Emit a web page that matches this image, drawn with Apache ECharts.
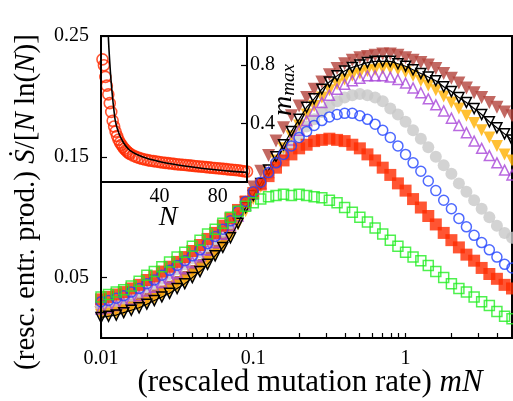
<!DOCTYPE html>
<html><head><meta charset="utf-8">
<script src="https://cdn.jsdelivr.net/npm/echarts@6/dist/echarts.min.js"></script>
<style>html,body{margin:0;padding:0;background:#fff}#c{width:513px;height:401px}</style>
</head><body><div id="c"></div>
<script>
// rescaled mutation rate mN (log axis)
const mN = [0.01,0.0112,0.0126,0.0141,0.0158,0.0178,0.02,0.0224,0.0251,0.0282,
  0.0316,0.0355,0.0398,0.0447,0.0501,0.0562,0.0631,0.0708,0.0794,0.0891,
  0.1,0.112,0.126,0.141,0.158,0.178,0.2,0.224,0.251,0.282,
  0.316,0.355,0.398,0.447,0.501,0.562,0.631,0.708,0.794,0.891,
  1,1.12,1.26,1.41,1.58,1.78,2,2.24,2.51,2.82,
  3.16,3.55,3.98,4.47,5.0];
const green = [.034,.036,.038,.040,.043,.047,.052,.055,.059,.063,
  .067,.071,.076,.081,.086,.090,.095,.100,.105,.109,
  .112,.115,.117,.118,.119,.118,.119,.118,.117,.116,
  .114,.112,.108,.104,.100,.096,.091,.086,.081,.076,
  .071,.067,.064,.060,.055,.050,.045,.041,.038,.034,
  .030,.027,.022,.018,.016];
const red = [.032,.034,.036,.038,.041,.044,.048,.051,.055,.059,
  .063,.067,.072,.077,.082,.087,.093,.099,.106,.113,
  .120,.127,.134,.141,.147,.152,.157,.160,.163,.164,
  .165,.164,.163,.160,.157,.152,.147,.141,.135,.128,
  .122,.115,.108,.101,.094,.087,.081,.075,.069,.064,
  .058,.053,.049,.044,.041];
const blue = [.030,.031,.033,.035,.038,.041,.045,.048,.052,.056,
  .060,.064,.068,.073,.078,.084,.090,.097,.105,.113,
  .121,.129,.137,.145,.152,.159,.166,.171,.176,.180,
  .183,.185,.186,.186,.184,.181,.177,.172,.166,.159,
  .152,.145,.138,.130,.122,.114,.107,.099,.092,.085,
  .079,.073,.067,.061,.058];
const gray = [.027,.028,.030,.032,.035,.038,.042,.045,.049,.053,
  .057,.061,.066,.071,.076,.082,.088,.095,.103,.111,
  .119,.128,.136,.145,.153,.161,.168,.175,.181,.187,
  .192,.196,.199,.201,.202,.201,.199,.196,.190,.185,
  .179,.172,.165,.158,.150,.143,.136,.128,.121,.114,
  .107,.100,.093,.087,.083];
const purple = [.024,.025,.027,.029,.032,.035,.039,.042,.046,.050,
  .054,.058,.063,.068,.073,.079,.086,.093,.101,.110,
  .119,.128,.137,.146,.155,.164,.172,.180,.188,.195,
  .201,.206,.210,.213,.215,.217,.217,.217,.216,.214,
  .211,.207,.203,.198,.193,.188,.182,.176,.170,.163,
  .157,.151,.145,.139,.135];
const orange = [.019,.020,.021,.023,.025,.027,.030,.033,.036,.039,
  .043,.047,.052,.057,.063,.069,.076,.084,.094,.105,
  .115,.125,.136,.147,.157,.167,.176,.185,.192,.199,
  .205,.210,.214,.217,.219,.221,.222,.223,.223,.222,
  .220,.217,.213,.209,.205,.200,.195,.190,.184,.178,
  .172,.166,.159,.152,.147];
const black = [.017,.018,.019,.021,.023,.025,.028,.031,.034,.037,
  .041,.045,.050,.055,.061,.068,.075,.083,.095,.108,
  .118,.128,.139,.150,.160,.171,.181,.191,.198,.206,
  .212,.217,.221,.224,.226,.228,.229,.229,.229,.227,
  .225,.222,.219,.216,.213,.208,.204,.199,.195,.190,
  .185,.179,.174,.169,.164];
const brown = [.021,.022,.023,.025,.027,.029,.032,.035,.038,.042,
  .046,.050,.055,.060,.066,.072,.079,.088,.100,.112,
  .125,.138,.151,.163,.174,.184,.192,.199,.206,.212,
  .218,.223,.227,.230,.232,.233,.234,.235,.235,.234,
  .232,.230,.228,.226,.223,.219,.215,.211,.207,.203,
  .199,.195,.191,.187,.184];

// inset: m_max vs N
const insetN = [1,2,3,4,5,6,7,8,9,10,11,12,13,14,15,16,17,18,19,20,
  22,24,26,28,30,32,34,36,38,40,42,44,46,48,50,52,54,56,58,60,
  62,64,66,68,70,72,74,76,78,80,82,84,86,88,90,92,94,96,98,100];
const insetRed = [.84,.80,.72,.66,.60,.54,.48,.42,.38,.345,
  .315,.29,.27,.255,.24,.228,.217,.207,.199,.192,
  .181,.172,.165,.159,.154,.150,.146,.143,.140,.137,
  .134,.131,.129,.127,.124,.122,.120,.118,.116,.114,
  .112,.110,.108,.106,.104,.102,.100,.098,.096,.094,
  .092,.090,.088,.086,.084,.082,.080,.077,.074,.072];
const lineN = [4,5,6,7,8,9,10,12,14,16,18,20,25,30,35,40,50,60,70,80,90,100];
const lineM = [1.25,1.0,0.82,0.68,0.57,0.48,0.41,0.34,0.295,0.26,0.235,0.215,0.187,0.168,0.152,0.140,0.121,0.106,0.093,0.082,0.073,0.066];

// tick labels
const xTickVals = [0.01,0.02,0.03,0.04,0.05,0.06,0.07,0.08,0.09,0.1,0.2,0.3,0.4,0.5,0.6,0.7,0.8,0.9,1,2,3,4,5];
const xLabelVals = [0.01,0.1,1];
const yLabelVals = [0.05,0.15,0.25];
const insetXLabels = [40,80];
const insetYLabels = [0.4,0.8];
const X_MIN = 0.01, X_MAX = 5;

const FONT = "'Liberation Serif','DejaVu Serif',serif";
const pairs = (xs, ys) => xs.map((x, i) => [x, ys[i]]);
const AXLINE = { show: true, onZero: false, lineStyle: { color: '#000', width: 2 } };

function mainSeries(name, ys, symbol, color, filled, size, rotate, z) {
  return {
    name, type: 'scatter', xAxisIndex: 0, yAxisIndex: 0, z,
    data: pairs(mN, ys), symbol, symbolSize: size, symbolRotate: rotate || 0,
    itemStyle: filled ? { color } : { color: 'rgba(0,0,0,0)', borderColor: color, borderWidth: 1.5 },
    emphasis: { disabled: true }
  };
}

const chart = echarts.init(document.getElementById('c'), null, { renderer: 'canvas' });
chart.setOption({
  animation: false,
  backgroundColor: '#fff',
  grid: [
    { left: 101, top: 36, width: 411, height: 302, show: true, borderColor: '#000', borderWidth: 2, z: 0 },
    { left: 101, top: 36, width: 146, height: 146, show: true, borderColor: '#000', borderWidth: 2, backgroundColor: '#fff', z: 10 }
  ],
  xAxis: [
    // data axis (log scale) – kept invisible at the top; visible ticks/labels come from the log10 companion axis below
    { gridIndex: 0, type: 'log', logBase: 10, min: X_MIN, max: X_MAX, position: 'top', show: false },
    { gridIndex: 1, type: 'value', min: 0, max: 100, z: 12,
      axisLine: AXLINE, splitLine: { show: false }, axisTick: { show: false },
      axisLabel: { customValues: insetXLabels, color: '#000', fontFamily: FONT, fontSize: 20, margin: 5 } },
    { gridIndex: 0, type: 'value', position: 'bottom', min: Math.log10(X_MIN), max: Math.log10(X_MAX), z: 12,
      axisLine: AXLINE, splitLine: { show: false },
      axisTick: { show: true, inside: true, length: 5, lineStyle: { color: '#000', width: 1.2 }, customValues: xTickVals.map(Math.log10) },
      axisLabel: { customValues: xLabelVals.map(Math.log10), color: '#000', fontFamily: FONT, fontSize: 20, margin: 11,
        formatter: v => String(+Math.pow(10, v).toPrecision(3)) } }
  ],
  yAxis: [
    { gridIndex: 0, type: 'value', min: 0, max: 0.25, z: 12,
      axisLine: AXLINE, splitLine: { show: false },
      axisTick: { show: true, inside: true, length: 6, lineStyle: { color: '#000', width: 1.2 }, customValues: yLabelVals },
      axisLabel: { customValues: yLabelVals, color: '#000', fontFamily: FONT, fontSize: 20, margin: 12,
        formatter: v => (+v).toFixed(2) } },
    { gridIndex: 1, type: 'value', min: 0, max: 1, position: 'right', z: 12,
      axisLine: AXLINE, splitLine: { show: false },
      axisTick: { show: true, inside: true, length: 6, lineStyle: { color: '#000', width: 1.2 }, customValues: insetYLabels },
      axisLabel: { customValues: insetYLabels, color: '#000', fontFamily: FONT, fontSize: 20, margin: 3,
        formatter: v => (+v).toFixed(1) } }
  ],
  series: [
    mainSeries('brown', brown, 'triangle', '#b3423b', true, 13, 180, 2),
    mainSeries('gray', gray, 'circle', '#c8c8c8', true, 12, 0, 3),
    mainSeries('orange', orange, 'triangle', '#ffb000', true, 12, 180, 4),
    mainSeries('purple', purple, 'triangle', '#a845d8', false, 10, 0, 5),
    { name: 'black', type: 'line', xAxisIndex: 0, yAxisIndex: 0, z: 6, data: pairs(mN, black),
      symbol: 'triangle', symbolRotate: 180, symbolSize: 10, showSymbol: true, smooth: false,
      lineStyle: { color: '#000', width: 1.2 }, itemStyle: { color: 'rgba(0,0,0,0)', borderColor: '#000', borderWidth: 1.5 },
      emphasis: { disabled: true } },
    mainSeries('red', red, 'rect', '#ff2a00', true, 12, 0, 7),
    mainSeries('blue', blue, 'circle', '#2244ff', false, 10, 0, 8),
    mainSeries('green', green, 'rect', '#22ee22', false, 10, 0, 9),
    { name: 'insetRed', type: 'scatter', xAxisIndex: 1, yAxisIndex: 1, z: 11, clip: false,
      data: pairs(insetN, insetRed), symbol: 'circle', symbolSize: 11,
      itemStyle: { color: 'rgba(0,0,0,0)', borderColor: '#ff2a00', borderWidth: 1.6 }, emphasis: { disabled: true } },
    { name: 'insetLine', type: 'line', xAxisIndex: 1, yAxisIndex: 1, z: 12, clip: true, smooth: true,
      data: pairs(lineN, lineM), showSymbol: false, lineStyle: { color: '#000', width: 1.6 }, emphasis: { disabled: true } }
  ],
  graphic: [
    { type: 'text', x: 26, y: 202, rotation: Math.PI / 2, z: 20,
      style: { text: '(resc. entr. prod.) {i|Ṡ}/[{i|N} ln({i|N})]', align: 'center', verticalAlign: 'middle',
        fontFamily: FONT, fontSize: 29, fill: '#000',
        rich: { i: { fontFamily: FONT, fontSize: 29, fontStyle: 'italic', fill: '#000' } } } },
    { type: 'text', x: 310, y: 383, z: 20,
      style: { text: '(rescaled mutation rate) {i|mN}', align: 'center', verticalAlign: 'middle',
        fontFamily: FONT, fontSize: 31, fill: '#000',
        rich: { i: { fontFamily: FONT, fontSize: 31, fontStyle: 'italic', fill: '#000' } } } },
    { type: 'text', x: 168, y: 218, z: 20,
      style: { text: 'N', align: 'center', verticalAlign: 'middle', fontFamily: FONT, fontSize: 28, fontStyle: 'italic', fill: '#000' } },
    { type: 'text', x: 284, y: 90, rotation: Math.PI / 2, z: 20,
      style: { text: '{m|m}{s|max}', align: 'center', verticalAlign: 'middle', fill: '#000',
        rich: { m: { fontFamily: FONT, fontSize: 28, fontStyle: 'italic', lineHeight: 28, verticalAlign: 'bottom' },
                s: { fontFamily: FONT, fontSize: 19, fontStyle: 'italic', lineHeight: 14, verticalAlign: 'bottom' } } } }
  ]
});
</script></body></html>
